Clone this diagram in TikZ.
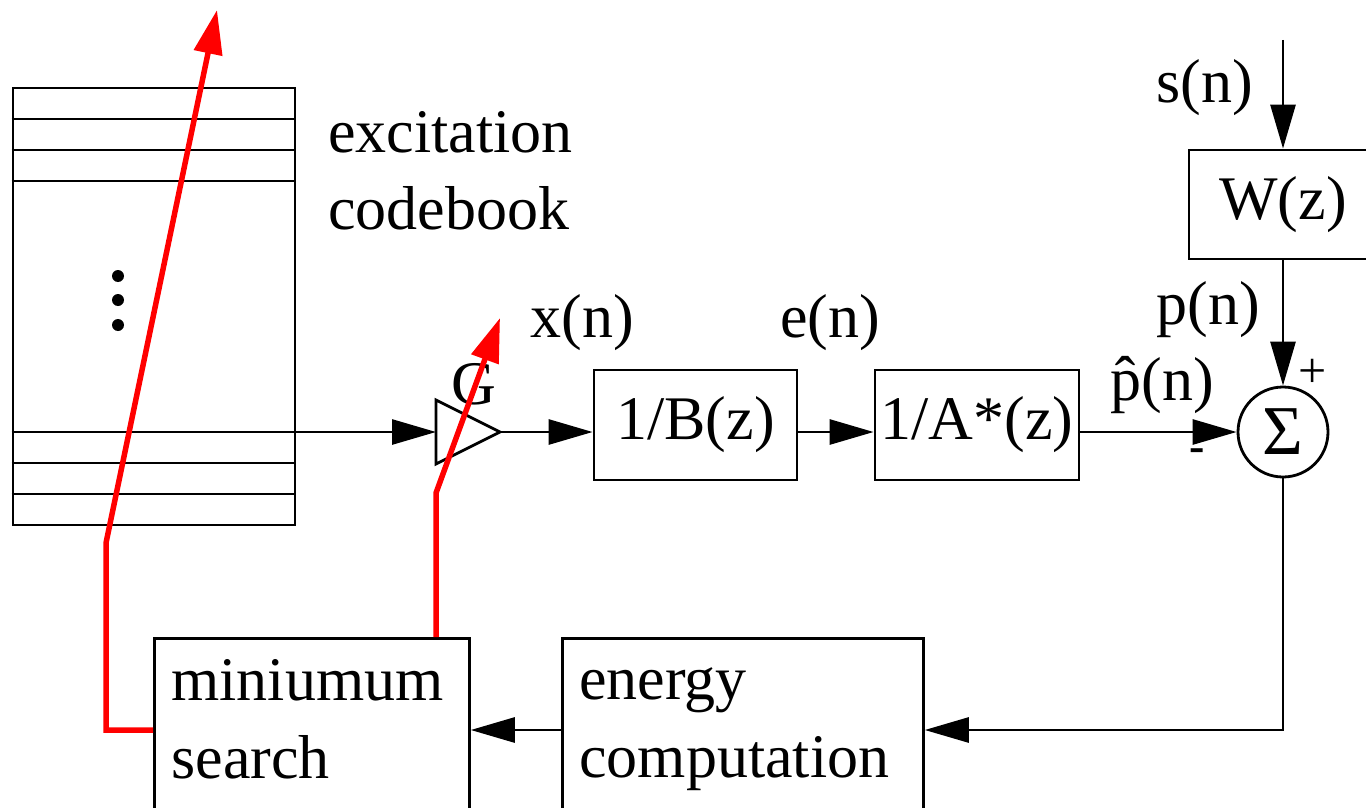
\documentclass[tikz,border=0pt]{standalone}
\usepackage{fontspec}
\setmainfont{Liberation Serif}
\usetikzlibrary{arrows.meta}
\begin{document}
\begin{tikzpicture}[x=1pt,y=-1pt, line width=2.8pt,
  box/.style={draw, rectangle, inner sep=0pt},
  lbl/.style={font=\fontsize{62}{78}\selectfont, inner sep=0pt},
  sig/.style={-{Triangle[length=44pt,width=25pt]}},
  ctl/.style={draw=red, line width=5.5pt, -{Triangle[length=44pt,width=28pt]}}]
\useasboundingbox (0,0) rectangle (1366,808);
% codebook
\node[box, minimum width=282pt, minimum height=437pt] (cb) at (154,306.5) {};
\foreach \yy in {119,150,181,432,463,494} \draw (cb.west |- 0,\yy) -- (cb.east |- 0,\yy);
\foreach \yy in {276,300,325} \fill (118,\yy) circle (6pt);
\node[lbl, anchor=base west] (cbl1) at (327,152) {excitation};
\node[lbl, anchor=base west] (cbl2) at (327,229) {codebook};
% gain
\coordinate (cbout) at (295,432);
\coordinate (gin) at (436,432);
\coordinate (gout) at (500,432);
\draw (436,400) -- (gout) -- (436,464) -- cycle;
\node[lbl] (G) at (474,384) {G};
% filters
\node[box, minimum width=203pt, minimum height=110pt, font=\fontsize{62}{78}\selectfont] (B) at (695.5,425) {1/B(z)};
\node[box, minimum width=204pt, minimum height=110pt, font=\fontsize{62}{78}\selectfont] (A) at (977,425) {1/A*(z)};
\node[draw, circle, minimum size=90pt, inner sep=0pt, font=\fontsize{70}{78}\selectfont] (S) at (1283,432) {Σ};
\node[box, minimum width=188pt, minimum height=109pt, font=\fontsize{62}{78}\selectfont] (W) at (1283,204.5) {W(z)};
\coordinate (sin) at (1283,40);
% labels
\node[lbl] (xl) at (582,323) {x(n)};
\node[lbl] (el) at (830,323) {e(n)};
\node[lbl] (phl) at (1162,385) {\^{p}(n)};
\node[lbl] (pl) at (1208,310) {p(n)};
\node[lbl] (sl) at (1205,88) {s(n)};
\node[font=\fontsize{50}{50}\selectfont, inner sep=0pt] (plus) at (1313,373) {+};
\node[font=\fontsize{46}{46}\selectfont\bfseries, inner sep=0pt] (minus) at (1197,455) {-};
% bottom boxes
\node[box, minimum width=315pt, minimum height=171pt, anchor=north west] (ms) at (153,637) {};
\node[lbl, anchor=base west] (ms1) at (170,700) {miniumum};
\node[lbl, anchor=base west] (ms2) at (170,778) {search};
\node[box, minimum width=361pt, minimum height=171pt, anchor=north west] (ec) at (561,637) {};
\node[lbl, anchor=base west] (ec1) at (578,699) {energy};
\node[lbl, anchor=base west] (ec2) at (578,777) {computation};
% signal connectors
\draw[sig] (cbout) -- (gin);
\draw[sig] (gout) -- (B.west |- gout);
\draw[sig] (B.east |- gout) -- (A.west |- gout);
\draw[sig] (A.east |- S) -- (S.west);
\draw[sig] (sin) -- (W.north);
\draw[sig] (W.south) -- (S.north);
\draw[sig] (S.south) -- (1283,730) -- (ec.east |- 0,730);
\draw[sig] (ec.west |- 0,730) -- (ms.east |- 0,730);
% control (red) paths
\draw[ctl] (ms.west |- 0,730) -- (106,730) -- (106,543) -- (217,10);
\draw[ctl] (ms.north -| 436,0) -- (436,493) -- (500,318);
\end{tikzpicture}
\end{document}
